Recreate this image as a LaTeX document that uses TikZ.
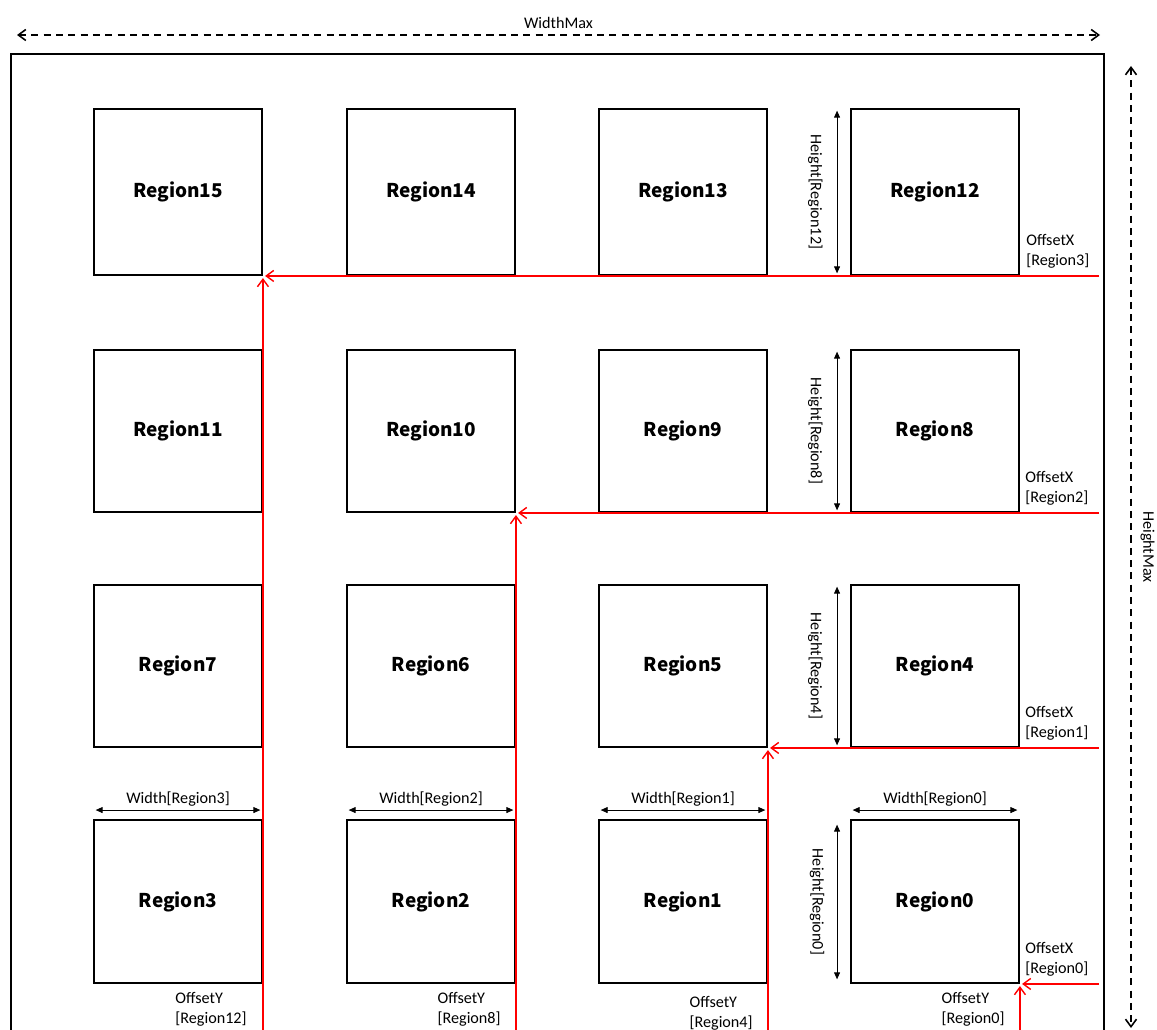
\documentclass[tikz,border=0pt]{standalone}
\usepackage{fontspec}
\setmainfont{Carlito}
\newfontfamily\gothic{Noto Sans CJK JP}
\usepackage{tikz}
\usetikzlibrary{arrows.meta,positioning,calc}

\begin{document}
\begin{tikzpicture}[
  x=0.02cm,y=-0.02cm,
  font=\fontsize{9.2}{11.3}\selectfont,
  region/.style={draw,line width=1.1pt,inner sep=0pt,minimum width=3.36cm,minimum height=3.26cm,font=\gothic\bfseries\fontsize{10.8}{13}\selectfont},
  dim/.style={{Triangle[length=1.4mm,width=1.2mm]}-{Triangle[length=1.4mm,width=1.2mm]},line width=0.5pt,shorten <=1.5pt,shorten >=1.5pt},
  maxdim/.style={{Straight Barb[length=1.5mm,width=2.2mm]}-{Straight Barb[length=1.5mm,width=2.2mm]},line width=0.9pt,dash pattern=on 4pt off 3pt},
  offset/.style={-{Straight Barb[length=1.5mm,width=2.2mm]},red,line width=0.8pt,shorten >=1.2pt},
  note/.style={align=left,inner sep=0pt}
]
\useasboundingbox (0,0) rectangle (1157,1030);

% outer frame
\draw[line width=1.5pt] (11,1045) -- (11,54) -- (1104,54) -- (1104,1045);
\coordinate (wl) at (17,35);
\coordinate (wr) at (1100,35);
\coordinate (ht) at (1131,66);
\coordinate (hb) at (1131,1028);
\coordinate (rim) at (1099,0);
\coordinate (floor) at (0,1040);
\draw[maxdim] (wl) -- node[above,inner sep=3pt] {WidthMax} (wr);
\draw[maxdim] (ht) -- node[rotate=-90,anchor=south,inner sep=5pt] {HeightMax} (hb);

% regions
\node[region,minimum height=3.32cm] (r15) at (178,192) {Region15};
\node[region,minimum height=3.32cm] (r14) at (431,192) {Region14};
\node[region,minimum height=3.32cm] (r13) at (683,192) {Region13};
\node[region,minimum height=3.32cm] (r12) at (935,192) {Region12};
\node[region,minimum height=3.24cm] (r11) at (178,431) {Region11};
\node[region,minimum height=3.24cm] (r10) at (431,431) {Region10};
\node[region,minimum height=3.24cm] (r9) at (683,431) {Region9};
\node[region,minimum height=3.24cm] (r8) at (935,431) {Region8};
\node[region,minimum height=3.24cm] (r7) at (178,666) {Region7};
\node[region,minimum height=3.24cm] (r6) at (431,666) {Region6};
\node[region,minimum height=3.24cm] (r5) at (683,666) {Region5};
\node[region,minimum height=3.24cm] (r4) at (935,666) {Region4};
\node[region] (r3) at (178,901.5) {Region3};
\node[region] (r2) at (431,901.5) {Region2};
\node[region] (r1) at (683,901.5) {Region1};
\node[region] (r0) at (935,901.5) {Region0};

% heights
\draw[dim] ([xshift=-0.26cm]r12.north west) -- node[rotate=-90,anchor=north,inner sep=8pt] {Height[Region12]} ([xshift=-0.26cm]r12.south west);
\draw[dim] ([xshift=-0.26cm]r8.north west) -- node[rotate=-90,anchor=north,inner sep=8pt] {Height[Region8]} ([xshift=-0.26cm]r8.south west);
\draw[dim] ([xshift=-0.26cm]r4.north west) -- node[rotate=-90,anchor=north,inner sep=8pt] {Height[Region4]} ([xshift=-0.26cm]r4.south west);
\draw[dim] ([xshift=-0.26cm,yshift=-0.06cm]r0.north west) -- node[rotate=-90,anchor=north,inner sep=7pt] {Height[Region0]} ([xshift=-0.26cm,yshift=0.04cm]r0.south west);

% widths
\draw[dim] ([yshift=0.18cm]r3.north west) -- node[above,inner sep=2pt] {Width[Region3]} ([yshift=0.18cm]r3.north east);
\draw[dim] ([yshift=0.18cm]r2.north west) -- node[above,inner sep=2pt] {Width[Region2]} ([yshift=0.18cm]r2.north east);
\draw[dim] ([yshift=0.18cm]r1.north west) -- node[above,inner sep=2pt] {Width[Region1]} ([yshift=0.18cm]r1.north east);
\draw[dim] ([yshift=0.18cm]r0.north west) -- node[above,inner sep=2pt] {Width[Region0]} ([yshift=0.18cm]r0.north east);

% offsets
\draw[offset] (rim |- r12.south east) -- (r15.south east);
\draw[offset] (floor -| r3.south east) -- (r15.south east);
\draw[offset] (rim |- r8.south east) -- (r10.south east);
\draw[offset] (floor -| r2.south east) -- (r10.south east);
\draw[offset] (rim |- r4.south east) -- (r5.south east);
\draw[offset] (floor -| r1.south east) -- (r5.south east);
\draw[offset] (rim |- r0.south east) -- (r0.south east);
\draw[offset] (floor -| r0.south east) -- (r0.south east);

\node[note,anchor=south west] (ox3) at ([xshift=0.12cm,yshift=0.14cm]r12.south east) {OffsetX\\{[Region3]}};
\node[note,anchor=south west] (ox2) at ([xshift=0.1cm,yshift=0.14cm]r8.south east) {OffsetX\\{[Region2]}};
\node[note,anchor=south west] (ox1) at ([xshift=0.1cm,yshift=0.14cm]r4.south east) {OffsetX\\{[Region1]}};
\node[note,anchor=south west] (ox0) at ([xshift=0.1cm,yshift=0.14cm]r0.south east) {OffsetX\\{[Region0]}};
\node[note,anchor=north east] (oy12) at ([xshift=-0.32cm,yshift=-0.16cm]r3.south east) {OffsetY\\{[Region12]}};
\node[note,anchor=north east] (oy8) at ([xshift=-0.3cm,yshift=-0.16cm]r2.south east) {OffsetY\\{[Region8]}};
\node[note,anchor=north east] (oy4) at ([xshift=-0.3cm,yshift=-0.24cm]r1.south east) {OffsetY\\{[Region4]}};
\node[note,anchor=north east] (oy0) at ([xshift=-0.3cm,yshift=-0.16cm]r0.south east) {OffsetY\\{[Region0]}};
\end{tikzpicture}
\end{document}
